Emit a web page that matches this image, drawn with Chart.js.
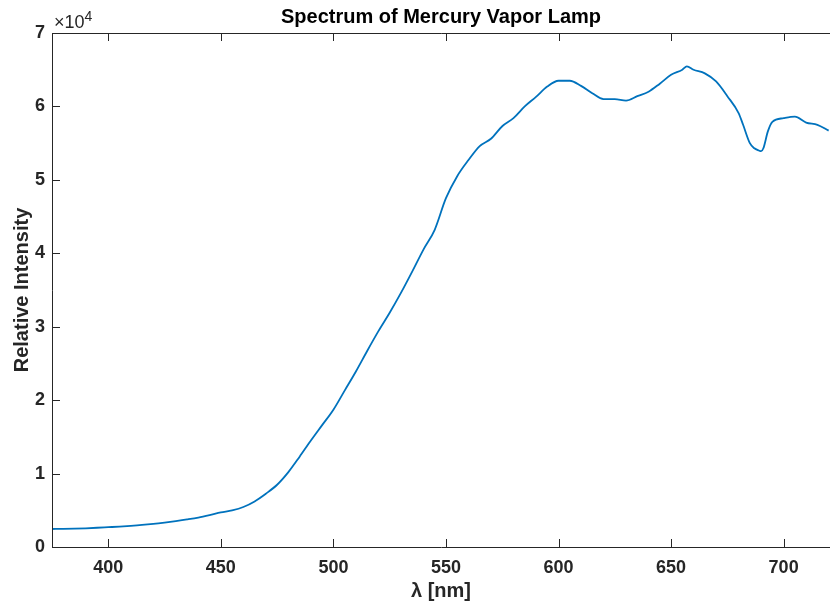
<!DOCTYPE html>
<html>
<head>
<meta charset="utf-8">
<script src="https://cdn.jsdelivr.net/npm/chart.js@4.4.1/dist/chart.umd.min.js"></script>
<style>
html,body{margin:0;padding:0;background:#fff;}
#wrap{width:830px;height:608px;position:relative;}
</style>
</head>
<body>
<div id="wrap"><canvas id="c" width="830" height="608"></canvas></div>
<script>
const wavelengths = [375,380,385,390,395,400,405,410,415,420,425,430,435,440,445,450,455,460,465,470,475,480,485,490,495,500,505,510,515,520,525,530,535,540,545,550,555,560,565,570,575,580,585,590,595,600,605,610,615,620,625,630,635,640,645,650,655,657,660,665,670,675,680,682,685,687,689,690,691,693,695,700,705,710,715,720];
const intensity = [2450,2470,2500,2550,2620,2700,2780,2880,3000,3150,3330,3530,3750,4000,4330,4700,4990,5450,6210,7260,8480,10200,12300,14500,16600,18700,21300,23900,26700,29400,31900,34600,37500,40500,43200,47500,50500,52700,54600,55600,57300,58400,60000,61300,62700,63500,63500,62800,61800,61000,61000,60800,61400,62000,63100,64300,65000,65450,65000,64500,63400,61400,59100,57500,55000,54300,54000,53900,54300,56600,57900,58400,58600,57800,57500,56700];
const xTicks = [400,450,500,550,600,650,700];
const yTicks = [0,10000,20000,30000,40000,50000,60000,70000];
const titleText = 'Spectrum of Mercury Vapor Lamp';
const xLabel = 'λ [nm]';
const yLabel = 'Relative Intensity';

const axisColor = '#262626';
const FONT = '"Liberation Sans", Arial, Helvetica, sans-serif';

const axesPlugin = {
  id: 'axesBox',
  afterDraw(chart) {
    const {ctx, chartArea: a, scales} = chart;
    ctx.save();
    ctx.strokeStyle = axisColor;
    ctx.lineWidth = 1;
    ctx.beginPath();
    ctx.moveTo(a.left + 0.5, a.top + 0.5); ctx.lineTo(a.right + 1, a.top + 0.5);
    ctx.moveTo(a.left + 0.5, a.top); ctx.lineTo(a.left + 0.5, a.bottom + 0.5);
    ctx.moveTo(a.left, a.bottom + 0.5); ctx.lineTo(a.right + 1, a.bottom + 0.5);
    const tl = 8;
    scales.x.ticks.forEach(t => {
      const px = Math.round(scales.x.getPixelForValue(t.value)) + 0.5;
      ctx.moveTo(px, a.bottom); ctx.lineTo(px, a.bottom - tl);
      ctx.moveTo(px, a.top); ctx.lineTo(px, a.top + tl);
    });
    scales.y.ticks.forEach(t => {
      const py = Math.round(scales.y.getPixelForValue(t.value)) + 0.5;
      ctx.moveTo(a.left, py); ctx.lineTo(a.left + tl, py);
    });
    ctx.stroke();
    ctx.fillStyle = axisColor;
    ctx.textBaseline = 'alphabetic';
    ctx.textAlign = 'left';
    ctx.font = '18px ' + FONT;
    ctx.fillText('×10', a.left + 2, a.top - 5);
    const w = ctx.measureText('×10').width;
    ctx.font = '14px ' + FONT;
    ctx.fillText('4', a.left + 2 + w, a.top - 12);
    ctx.restore();
  }
};

new Chart(document.getElementById('c'), {
  type: 'line',
  data: {
    datasets: [{
      data: wavelengths.map((w, i) => ({x: w, y: intensity[i]})),
      borderColor: '#0072BD',
      borderWidth: 1.8,
      pointRadius: 0,
      fill: false,
      cubicInterpolationMode: 'monotone'
    }]
  },
  options: {
    responsive: false,
    animation: false,
    layout: {padding: {left: 0, right: 0, top: 0, bottom: 0}},
    plugins: {
      legend: {display: false},
      tooltip: {enabled: false},
      title: {
        display: true,
        fullSize: false,
        text: titleText,
        color: '#000',
        font: {family: FONT, size: 20, weight: 'bold'},
        padding: {top: 5, bottom: 4}
      }
    },
    scales: {
      x: {
        type: 'linear',
        min: 375,
        max: 720.6,
        afterBuildTicks: s => { s.ticks = xTicks.map(v => ({value: v})); },
        afterFit: s => { s.height = 61; },
        grid: {display: false, drawTicks: false},
        border: {display: false},
        ticks: {
          color: axisColor,
          font: {family: FONT, size: 18, weight: 'bold'},
          padding: 10,
          maxRotation: 0
        },
        title: {
          display: true,
          text: xLabel,
          color: axisColor,
          font: {family: FONT, size: 20, weight: 'bold'},
          padding: {top: 0, bottom: 5}
        }
      },
      y: {
        type: 'linear',
        min: 0,
        max: 70000,
        afterBuildTicks: s => { s.ticks = yTicks.map(v => ({value: v})); },
        afterFit: s => { s.width = 52; },
        grid: {display: false, drawTicks: false},
        border: {display: false},
        ticks: {
          color: axisColor,
          font: {family: FONT, size: 18, weight: 'bold'},
          padding: 7,
          callback: v => String(v / 10000)
        },
        title: {
          display: true,
          text: yLabel,
          color: axisColor,
          font: {family: FONT, size: 20, weight: 'bold'},
          padding: {top: 10, bottom: 0}
        }
      }
    }
  },
  plugins: [axesPlugin]
});
</script>
</body>
</html>
